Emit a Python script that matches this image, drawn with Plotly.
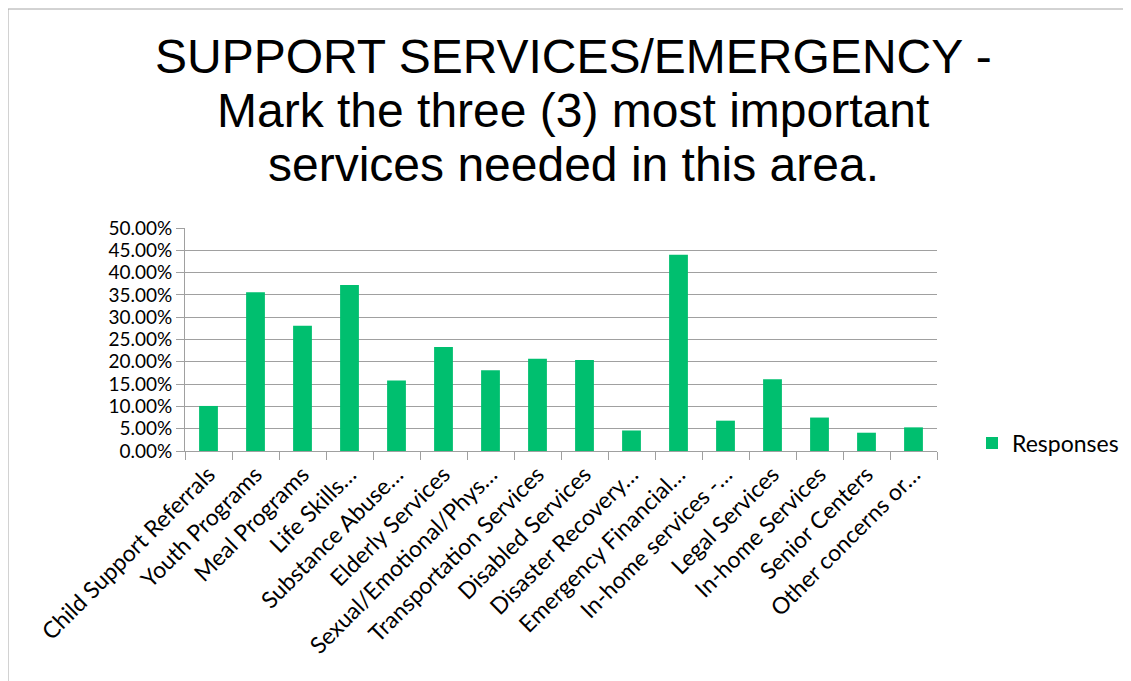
import plotly.graph_objects as go

categories = [
    "Child Support Referrals", "Youth Programs", "Meal Programs", "Life Skills…",
    "Substance Abuse…", "Elderly Services", "Sexual/Emotional/Phys…",
    "Transportation Services", "Disabled Services", "Disaster Recovery…",
    "Emergency Financial…", "In-home services -…", "Legal Services",
    "In-home Services", "Senior Centers", "Other concerns or…",
]
values = [0.101, 0.356, 0.281, 0.372, 0.158, 0.233, 0.181, 0.207, 0.204,
          0.046, 0.440, 0.068, 0.161, 0.075, 0.041, 0.053]
series_name = "Responses"
title_lines = [
    "SUPPORT SERVICES/EMERGENCY -",
    "Mark the three (3) most important",
    "services needed in this area.",
]

# page body has an 8px margin: work in screenshot pixels, shift by OFF
OFF = 8
W, H = 1131, 681
L, R, T, B = 185 - OFF, 937 - OFF, 228 - OFF, 451 - OFF


def px_x(px):
    return (px - OFF - L) / (R - L)


def px_y(py):
    return (B - (py - OFF)) / (B - T)


fig = go.Figure()
fig.add_trace(go.Bar(
    x=categories, y=values, name=series_name,
    marker=dict(color="#00BF6F", line=dict(width=0)),
    showlegend=True,
))

label_font = dict(family="Lato, Carlito, 'Open Sans', sans-serif", size=23, color="#000000")
ytick_font = dict(family="Lato, Carlito, 'Open Sans', sans-serif", size=19, color="#000000")

fig.update_layout(
    width=W, height=H,
    margin=dict(l=L, r=W - R, t=T, b=H - B, pad=0),
    paper_bgcolor="white", plot_bgcolor="white",
    bargap=0.6,
    showlegend=True,
    legend=dict(x=px_x(972), y=px_y(443), xanchor="left", yanchor="middle",
                font=label_font, bgcolor="rgba(0,0,0,0)", itemwidth=30),
    xaxis=dict(
        type="category", tickangle=-45, tickfont=label_font,
        showline=True, linecolor="#A0A0A0", linewidth=1,
        ticks="outside", ticklen=8, tickcolor="#A0A0A0", tickson="boundaries",
        showgrid=False, automargin=False,
    ),
    yaxis=dict(
        range=[0, 0.5], dtick=0.05, tickformat=".2%", tickfont=ytick_font,
        showline=True, linecolor="#A0A0A0", linewidth=1,
        ticks="outside", ticklen=8, tickcolor="#A0A0A0",
        showgrid=True, gridcolor="#A0A0A0", gridwidth=1,
        zeroline=False, automargin=False,
    ),
)

title_y = [56, 110, 164]
for line, ty in zip(title_lines, title_y):
    fig.add_annotation(
        text=line, xref="paper", yref="paper", x=px_x(573), y=px_y(ty),
        xanchor="center", yanchor="middle", showarrow=False,
        font=dict(family="'Liberation Sans', Arial, sans-serif",
                  size=48, color="#000000"),
    )

# outer chart border (top and left edges visible)
fig.add_shape(type="rect", xref="paper", yref="paper",
              x0=px_x(8), x1=px_x(1200), y0=px_y(9), y1=px_y(760),
              line=dict(color="#A6A6A6", width=1), fillcolor="rgba(0,0,0,0)", layer="below")

fig.write_html("out.html")
